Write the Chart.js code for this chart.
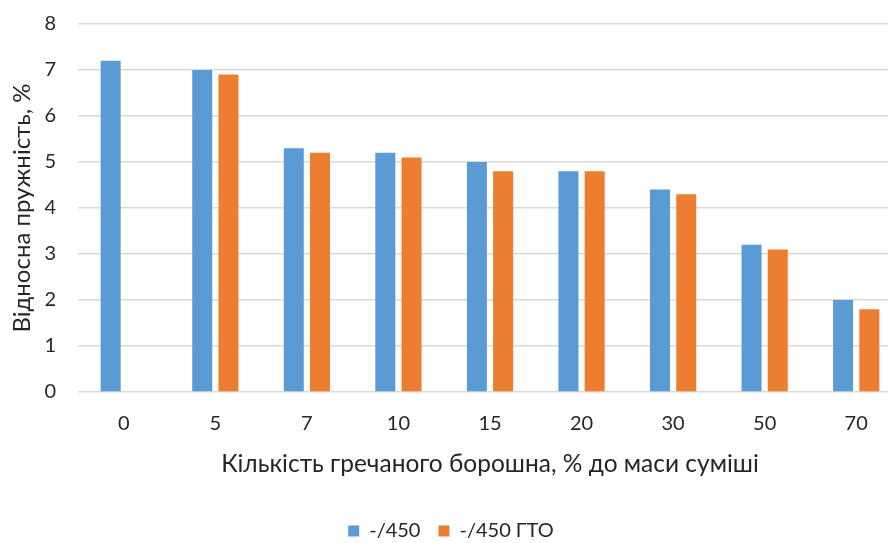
<!DOCTYPE html>
<html>
<head>
<meta charset="utf-8">
<script src="https://cdn.jsdelivr.net/npm/chart.js@4"></script>
<style>
  html, body { margin: 0; padding: 0; background: #fff; overflow: hidden; }
  #wrap { width: 902px; height: 543px; position: relative; }
</style>
</head>
<body>
<div id="wrap"><canvas id="myChart"></canvas></div>
<script>
// дані з графіка
const categories = ['0', '5', '7', '10', '15', '20', '30', '50', '70'];
const series450 = [7.2, 7.0, 5.3, 5.2, 5.0, 4.8, 4.4, 3.2, 2.0];
const series450gto = [null, 6.9, 5.2, 5.1, 4.8, 4.8, 4.3, 3.1, 1.8];
const yTicks = [0, 1, 2, 3, 4, 5, 6, 7, 8];

const textColor = '#262626';
const fontFamily = 'Lato, "Noto Sans", sans-serif';

const data = {
  labels: categories,
  datasets: [
    {
      label: '-/450',
      data: series450,
      backgroundColor: '#5B9BD5',
      categoryPercentage: 0.573,
      barPercentage: 0.763
    },
    {
      label: '-/450 ГТО',
      data: series450gto,
      backgroundColor: '#ED7D31',
      categoryPercentage: 0.573,
      barPercentage: 0.763
    }
  ]
};

const config = {
  type: 'bar',
  data: data,
  options: {
    responsive: true,
    maintainAspectRatio: false,
    animation: false,
    layout: { padding: { top: 24, left: 0, right: 0, bottom: -8 } },
    plugins: {
      legend: {
        position: 'bottom',
        labels: {
          color: textColor,
          font: { family: fontFamily, size: 20 },
          boxWidth: 11,
          boxHeight: 11,
          padding: 18
        }
      },
      tooltip: { enabled: false }
    },
    scales: {
      x: {
        grid: { display: false },
        border: { display: false },
        ticks: {
          color: textColor,
          font: { family: fontFamily, size: 20 },
          padding: 12
        },
        title: {
          display: true,
          text: 'Кількість гречаного борошна, % до маси суміші',
          color: textColor,
          font: { family: fontFamily, size: 24.5 },
          padding: { top: 0, bottom: 24 }
        },
        afterFit: (scale) => { scale.height = 111; }
      },
      y: {
        min: 0,
        max: 8,
        afterBuildTicks: (scale) => { scale.ticks = yTicks.map(v => ({ value: v })); },
        grid: { color: '#D9D9D9', lineWidth: 1.5, drawTicks: false },
        border: { display: false },
        ticks: {
          color: textColor,
          font: { family: fontFamily, size: 20 },
          padding: 22
        },
        title: {
          display: true,
          text: 'Відносна пружність, %',
          color: textColor,
          font: { family: fontFamily, size: 24 },
          padding: { top: 8, bottom: 0 }
        },
        afterFit: (scale) => {
          scale.width = 78;
          scale.paddingTop = 0;
          scale.paddingBottom = 0;
        }
      }
    }
  }
};

const myChart = new Chart(document.getElementById('myChart'), config);
</script>
</body>
</html>
